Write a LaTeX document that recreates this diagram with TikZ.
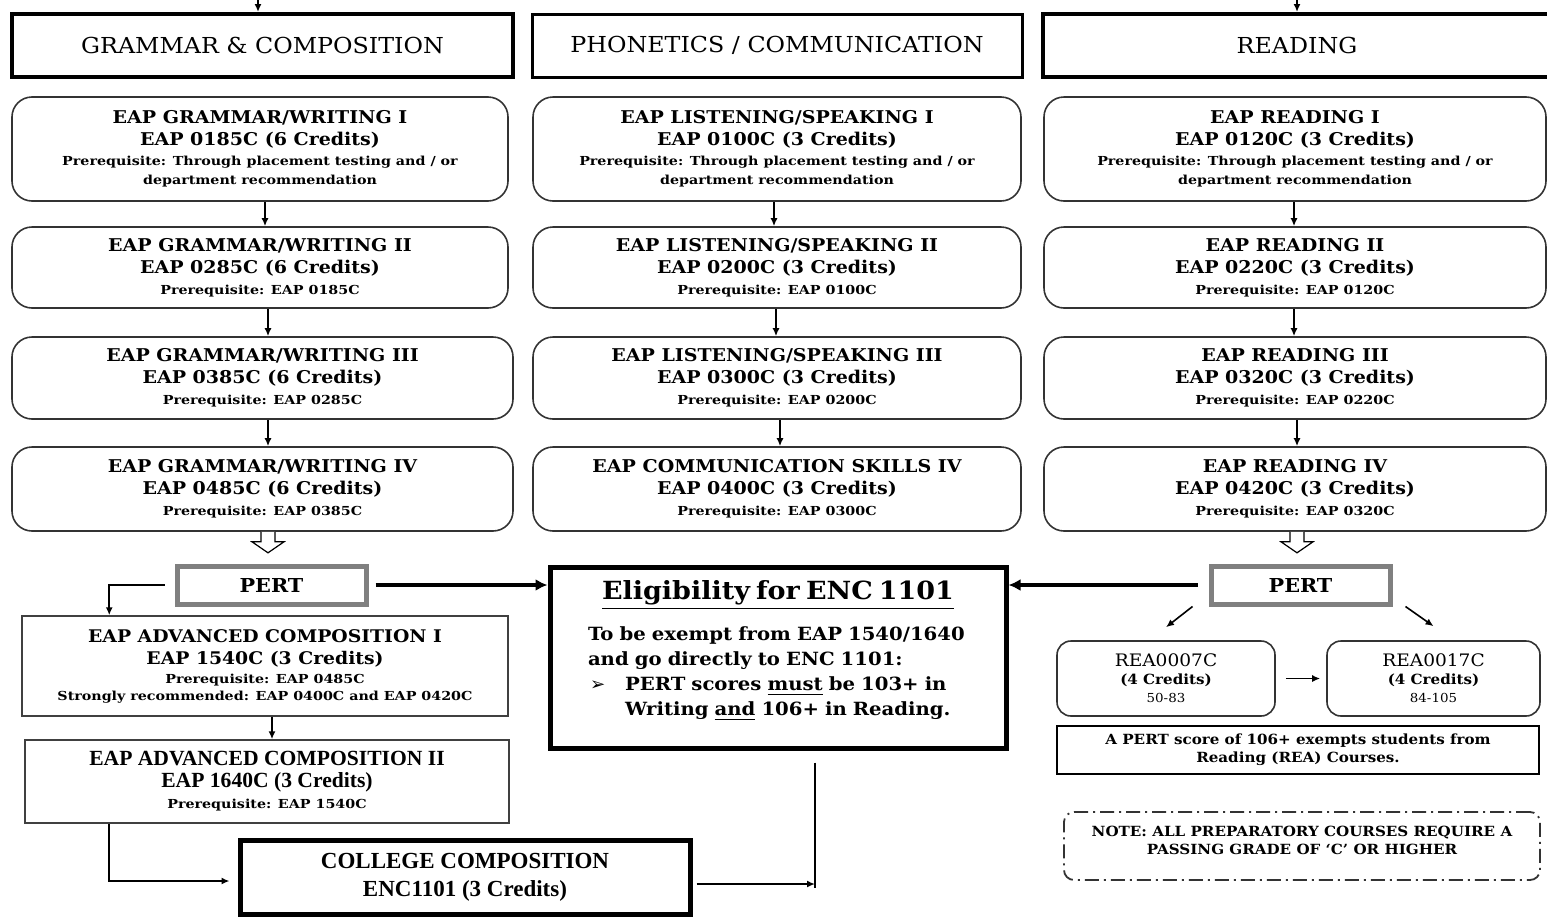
\documentclass[tikz,border=0pt]{standalone}
\usepackage{fontspec}
\setmainfont{DejaVu Serif}[FakeStretch=1.08]
\newfontfamily\prqfont{DejaVu Serif}[FakeStretch=1.15]
\newfontfamily\timesfont{Liberation Serif}
\newfontfamily\dingfont{DejaVu Sans}
\usetikzlibrary{arrows.meta,positioning,calc}
\newcommand\prq{\prqfont\bfseries\fontsize{6.2}{9.5}\selectfont}

\begin{document}
\begin{tikzpicture}[x=0.5pt,y=-0.5pt,
    every node/.style={align=center, inner sep=0pt},
    header/.style={draw, line width=2pt, minimum height=31.5pt, font=\fontsize{11}{13}\selectfont},
    course/.style={draw=black!80, line width=0.8pt, rounded corners=10pt, font=\bfseries\fontsize{8.8}{11}\selectfont},
    adv/.style={draw=black!75, line width=0.75pt, font=\bfseries\fontsize{8.7}{11}\selectfont},
    pert/.style={draw=black!50, line width=2.5pt, minimum height=19pt, font=\bfseries\fontsize{9.6}{11}\selectfont},
    thickbox/.style={draw, line width=2.5pt},
    rea/.style={draw=black!80, line width=0.8pt, rounded corners=7pt, minimum height=37.5pt, font=\fontsize{8.6}{9}\selectfont},
    small/.style={draw, line width=0.7pt, font=\bfseries\fontsize{7}{9}\selectfont},
    dashbox/.style={draw=black!80, line width=0.9pt, rounded corners=5pt,
        dash pattern=on 7pt off 2.5pt on 1pt off 2.5pt},
    arr/.style={-{Latex[length=4pt,width=3.5pt]}, line width=0.8pt},
    bigarr/.style={-{Latex[length=6pt,width=6pt]}, line width=2pt},
    hollowdown/.pic={\draw[line width=0.6pt, fill=white] (-7,0) -- (-7,10) -- (-16,10) -- (0,21) -- (16,10) -- (7,10) -- (7,0);}
  ]
\useasboundingbox (0,0) rectangle (1547,916);

\node[header, minimum width=250.5pt] (hg) at (262.5,45.5) {GRAMMAR \& COMPOSITION};
\node[header, minimum width=245pt, line width=1.5pt] (hp) at (777,45.5) {PHONETICS / COMMUNICATION};
\node[header, minimum width=254pt] (hr) at (1297,45.5) {READING};

\coordinate (tg) at (258,-4);
\coordinate (tr) at (1297,-4);
\draw[arr] (tg) -- (tg |- hg.north);
\draw[arr] (tr) -- (tr |- hr.north);

\node[course, minimum width=248pt, minimum height=52pt] (g1) at (260,149)
    {EAP GRAMMAR/WRITING I\\EAP 0185C (6 Credits)\\[-1pt]{\prq Prerequisite: Through placement testing and / or}\\[-1.5pt]{\prq department recommendation}};
\node[course, minimum width=248pt, minimum height=40.5pt] (g2) at (260,267.5)
    {EAP GRAMMAR/WRITING II\\EAP 0285C (6 Credits)\\[-0.5pt]{\prq Prerequisite: EAP 0185C}};
\node[course, minimum width=250.5pt, minimum height=41pt] (g3) at (262.5,378)
    {EAP GRAMMAR/WRITING III\\EAP 0385C (6 Credits)\\[-0.5pt]{\prq Prerequisite: EAP 0285C}};
\node[course, minimum width=250.5pt, minimum height=42pt] (g4) at (262.5,489)
    {EAP GRAMMAR/WRITING IV\\EAP 0485C (6 Credits)\\[-0.5pt]{\prq Prerequisite: EAP 0385C}};

\node[course, minimum width=244pt, minimum height=52pt] (p1) at (777,149)
    {EAP LISTENING/SPEAKING I\\EAP 0100C (3 Credits)\\[-1pt]{\prq Prerequisite: Through placement testing and / or}\\[-1.5pt]{\prq department recommendation}};
\node[course, minimum width=244pt, minimum height=40.5pt] (p2) at (777,267.5)
    {EAP LISTENING/SPEAKING II\\EAP 0200C (3 Credits)\\[-0.5pt]{\prq Prerequisite: EAP 0100C}};
\node[course, minimum width=244pt, minimum height=41pt] (p3) at (777,378)
    {EAP LISTENING/SPEAKING III\\EAP 0300C (3 Credits)\\[-0.5pt]{\prq Prerequisite: EAP 0200C}};
\node[course, minimum width=244pt, minimum height=42pt] (p4) at (777,489)
    {EAP COMMUNICATION SKILLS IV\\EAP 0400C (3 Credits)\\[-0.5pt]{\prq Prerequisite: EAP 0300C}};

\node[course, minimum width=251pt, minimum height=52pt] (r1) at (1295,149)
    {EAP READING I\\EAP 0120C (3 Credits)\\[-1pt]{\prq Prerequisite: Through placement testing and / or}\\[-1.5pt]{\prq department recommendation}};
\node[course, minimum width=251pt, minimum height=40.5pt] (r2) at (1295,267.5)
    {EAP READING II\\EAP 0220C (3 Credits)\\[-0.5pt]{\prq Prerequisite: EAP 0120C}};
\node[course, minimum width=251pt, minimum height=41pt] (r3) at (1295,378)
    {EAP READING III\\EAP 0320C (3 Credits)\\[-0.5pt]{\prq Prerequisite: EAP 0220C}};
\node[course, minimum width=251pt, minimum height=42pt] (r4) at (1295,489)
    {EAP READING IV\\EAP 0420C (3 Credits)\\[-0.5pt]{\prq Prerequisite: EAP 0320C}};

\foreach \a/\b/\s in {g1/g2/2.5,g2/g3/4,g3/g4/2.75,p1/p2/-1.5,p2/p3/-0.5,p3/p4/1.5,r1/r2/-0.5,r2/r3/-0.5,r3/r4/1}
    \draw[arr] ([xshift=\s pt]\a.south) -- ([xshift=\s pt]\a.south |- \b.north);

\pic at ([xshift=2.75pt]g4.south) {hollowdown};
\pic at ([xshift=1pt]r4.south) {hollowdown};

\node[pert, minimum width=94.5pt] (pl) at (271.5,585) {PERT};
\node[pert, minimum width=89.5pt] (pr) at (1300.5,585) {PERT};

\node[thickbox, minimum width=228pt, minimum height=90.5pt] (elig) at (778,657.5) {};
\node[anchor=north, text width=190pt, align=left, font=\bfseries\fontsize{9.1}{12.5}\selectfont] (eligtxt) at ([yshift=-8pt]elig.north)
    {\makebox[190pt]{\fontsize{12.5}{14}\selectfont\underline{Eligibility for ENC 1101}}\\[8pt]
     To be exempt from EAP 1540/1640\\
     and go directly to ENC 1101:\\
     \makebox[18.5pt][l]{\hspace{1pt}{\dingfont\mdseries ➢}}PERT scores \underline{must} be 103+ in\\
     \hspace*{18.5pt}Writing \underline{and} 106+ in Reading.};

\draw[bigarr] ([xshift=3.5pt]pl.east) -- (elig.west |- pl.east);
\draw[bigarr] ([xshift=-5.5pt]pr.west) -- (elig.east |- pr.west);

\node[adv, minimum width=243pt, minimum height=50pt] (a1) at (265,666)
    {EAP ADVANCED COMPOSITION I\\EAP 1540C (3 Credits)\\[-1.5pt]{\prq Prerequisite: EAP 0485C}\\[-2.5pt]{\prq Strongly recommended: EAP 0400C and EAP 0420C}};
\node[adv, minimum width=242pt, minimum height=41.5pt, font=\timesfont\bfseries\fontsize{10.8}{11}\selectfont] (a2) at (267,781.5)
    {EAP ADVANCED COMPOSITION II\\EAP 1640C (3 Credits)\\[-0.5pt]{\prq Prerequisite: EAP 1540C}};
\node[thickbox, minimum width=225pt, minimum height=37pt, font=\timesfont\bfseries\fontsize{11.5}{14}\selectfont] (cc) at (465,877)
    {COLLEGE COMPOSITION\\ENC1101 (3 Credits)};

\draw[arr] ([xshift=-5pt]pl.west) -| ([xshift=44pt]a1.north west);
\draw[arr] ([xshift=3.5pt]a1.south) -- ([xshift=3.5pt]a1.south |- a2.north);
\draw[arr] ([xshift=42.5pt]a2.south west) |- ([xshift=-4pt,yshift=-2pt]cc.west);

\coordinate (ej) at ([xshift=18.5pt,yshift=-6pt]elig.south);
\draw[line width=0.8pt] (ej) -- ([yshift=-5.5pt]ej |- cc.east);
\draw[arr] ([xshift=2pt,yshift=-3.5pt]cc.east) -- ([yshift=-3.5pt]ej |- cc.east);

\node[rea, minimum width=109pt] (rl) at (1166,678.5)
    {REA0007C\\{\bfseries\fontsize{7}{9}\selectfont (4 Credits)}\\{\fontsize{6.2}{9}\selectfont 50-83}};
\node[rea, minimum width=106.5pt] (rr) at (1433.5,678.5)
    {REA0017C\\{\bfseries\fontsize{7}{9}\selectfont (4 Credits)}\\{\fontsize{6.2}{9}\selectfont 84-105}};

\draw[arr] ([xshift=-8pt]pr.south west) -- ([yshift=6.5pt]rl.north);
\draw[arr] ([xshift=6.5pt]pr.south east) -- ([yshift=7pt]rr.north);
\draw[arr] ([xshift=5pt]rl.east) -- ([xshift=-3pt]rr.west);

\node[small, minimum width=241pt, minimum height=24pt] (pn) at (1298,750)
    {A PERT score of 106+ exempts students from\\Reading (REA) Courses.};

\node[dashbox, minimum width=238pt, minimum height=34pt] (note) at (1302,846) {};
\node[font=\bfseries\fontsize{7}{9}\selectfont] (notetxt) at (1302,840)
    {NOTE: ALL PREPARATORY COURSES REQUIRE A\\PASSING GRADE OF ‘C’ OR HIGHER};

\end{tikzpicture}
\end{document}
